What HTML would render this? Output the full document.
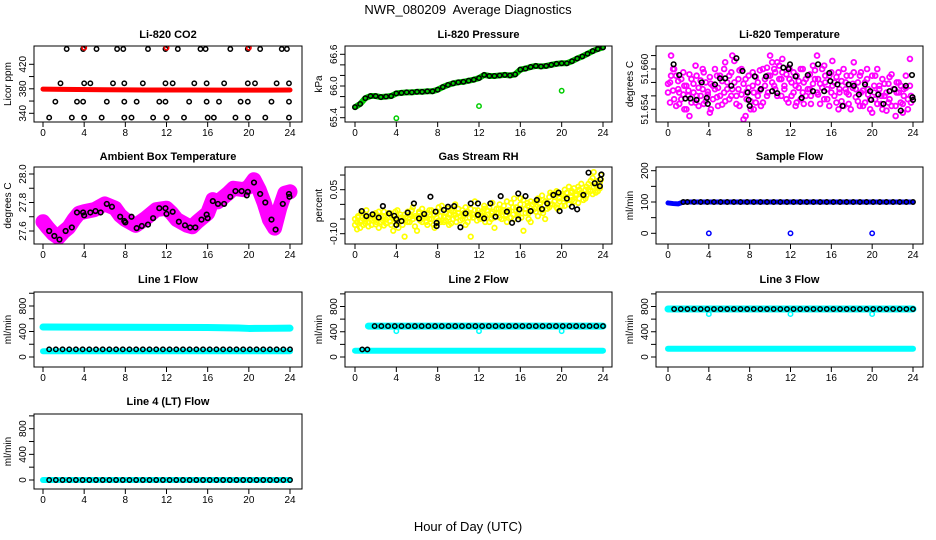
<!DOCTYPE html>
<html><head><meta charset="utf-8"><style>
html,body{margin:0;padding:0;background:#fff;}
svg{display:block;font-family:"Liberation Sans",sans-serif;}
</style></head><body>
<svg id="chart" width="936" height="540" viewBox="0 0 936 540">
<text x="468" y="14" text-anchor="middle" font-size="13">NWR_080209&#160; Average Diagnostics</text>
<text x="468" y="531" text-anchor="middle" font-size="13">Hour of Day (UTC)</text>
</svg>
<script>
// ---------- data ----------
const xTickVals = [0,4,8,12,16,20,24];
const xTickLabels = ["0","4","8","12","16","20","24"];

// CO2
const co2Hours1 = [2.3,3.9,5.2,7.2,7.8,10.2,11.9,13.1,15.3,15.8,18.2,19.9,21.1,23.2,23.7];
const co2Vals1 = [445,445,445,445,445,445,445,445,445,445,445,445,445,445,445];
const co2Hours2 = [1.7,4.0,4.6,6.8,7.9,9.7,11.9,12.6,14.7,15.9,17.6,19.9,20.6,22.7,23.9];
const co2Vals2 = [389,389,389,389,389,389,389,389,389,389,389,389,389,389,389];
const co2Hours3 = [1.2,3.3,3.9,6.2,7.9,9.1,11.3,11.9,14.2,15.9,17.1,19.2,19.9,22.2,23.9];
const co2Vals3 = [359,359,359,359,359,359,359,359,359,359,359,359,359,359,359];
const co2Hours4 = [0.6,2.8,4.0,5.7,7.9,8.6,10.7,12.0,13.7,16.0,16.6,18.7,19.9,21.6,23.9];
const co2Vals4 = [333,333,333,333,333,333,333,333,333,333,333,333,333,333,333];
const co2BandHours = [0,2,6,10,14,18,22,24];
const co2BandVals = [379.5,379,378.5,378,378,377.8,377.8,378];
const co2RedOutHours = [4,12,20];
const co2RedOutVals = [447,447,447];

// Pressure
const pressHours = [0,0.5,1,1.5,2,2.5,3,3.5,4,4.5,5,5.5,6,6.5,7,7.5,8,8.5,9,9.5,10,10.5,11,11.5,12,12.5,13,13.5,14,14.5,15,15.5,16,16.5,17,17.5,18,18.5,19,19.5,20,20.5,21,21.5,22,22.5,23,23.5,24];
const pressVals = [65.6,65.66,65.77,65.81,65.81,65.79,65.8,65.81,65.86,65.87,65.88,65.88,65.89,65.89,65.9,65.9,65.93,65.98,66.02,66.05,66.07,66.08,66.1,66.12,66.15,66.21,66.19,66.19,66.2,66.21,66.2,66.22,66.31,66.33,66.36,66.38,66.37,66.38,66.4,66.42,66.43,66.43,66.47,66.52,66.56,66.61,66.66,66.7,66.73];
const pressOutHours = [4,12,20];
const pressOutVals = [65.39,65.62,65.91];

// Li-820 temperature & gas RH clouds share sample hours
const cloudHours = [0.0,0.2,0.3,0.5,0.6,0.8,1.0,1.1,1.3,1.5,1.6,1.8,2.0,2.1,2.3,2.5,2.7,2.8,3.0,3.2,3.4,3.5,3.7,3.9,4.1,4.2,4.4,4.6,4.8,4.9,5.1,5.3,5.5,5.6,5.8,6.0,6.2,6.3,6.5,6.7,6.9,7.0,7.2,7.4,7.6,7.7,7.9,8.1,8.3,8.4,8.6,8.8,9.0,9.1,9.3,9.5,9.7,9.8,10.0,10.2,10.4,10.5,10.7,10.9,11.1,11.2,11.4,11.6,11.8,11.9,12.1,12.3,12.5,12.6,12.8,13.0,13.2,13.3,13.5,13.7,13.9,14.0,14.2,14.4,14.6,14.7,14.9,15.1,15.3,15.4,15.6,15.8,16.0,16.1,16.3,16.5,16.7,16.8,17.0,17.2,17.4,17.5,17.7,17.9,18.1,18.2,18.4,18.6,18.8,18.9,19.1,19.3,19.5,19.6,19.8,20.0,20.2,20.3,20.5,20.7,20.9,21.0,21.2,21.4,21.6,21.7,21.9,22.1,22.3,22.4,22.6,22.8,23.0,23.1,23.3,23.5,23.7,23.8];
const tempA = [51.6565,51.6580,51.6620,51.6600,51.6555,51.6590,51.6570,51.6548,51.6585,51.6562,
51.6575,51.6540,51.6568,51.6592,51.6550,51.6578,51.6605,51.6560,51.6545,51.6583,
51.6570,51.6595,51.6552,51.6566,51.6588,51.6540,51.6575,51.6600,51.6558,51.6572,
51.6590,51.6547,51.6565,51.6610,51.6580,51.6555,51.6595,51.6570,51.6612,51.6560,
51.6585,51.6545,51.6600,51.6578,51.6530,51.6566,51.6590,51.6552,51.6575,51.6540,
51.6588,51.6560,51.6598,51.6570,51.6550,51.6585,51.6602,51.6565,51.6590,51.6610,
51.6575,51.6595,51.6560,51.6605,51.6585,51.6615,51.6570,51.6592,51.6550,51.6600,
51.6580,51.6565,51.6545,51.6590,51.6572,51.6555,51.6600,51.6580,51.6560,51.6590,
51.6570,51.6548,51.6605,51.6585,51.6620,51.6562,51.6578,51.6600,51.6555,51.6590,
51.6570,51.6545,51.6595,51.6575,51.6560,51.6588,51.6540,51.6570,51.6552,51.6600,
51.6580,51.6565,51.6548,51.6590,51.6572,51.6610,51.6558,51.6580,51.6545,51.6595,
51.6568,51.6550,51.6585,51.6562,51.6540,51.6590,51.6575,51.6555,51.6600,51.6570,
51.6548,51.6585,51.6560,51.6538,51.6578,51.6555,51.6592,51.6570,51.6545,51.6565,
51.6580,51.6550,51.6535,51.6570,51.6590,51.6555,51.6575,51.6560];
const tempB = [51.6578,51.6550,51.6590,51.6568,51.6600,51.6545,51.6582,51.6565,51.6555,51.6595,
51.6540,51.6575,51.6560,51.6530,51.6585,51.6565,51.6550,51.6590,51.6572,51.6560,
51.6600,51.6548,51.6580,51.6562,51.6535,51.6578,51.6555,51.6570,51.6590,51.6545,
51.6560,51.6582,51.6600,51.6552,51.6570,51.6590,51.6560,51.6620,51.6580,51.6548,
51.6570,51.6598,51.6562,51.6525,51.6585,51.6555,51.6572,51.6540,51.6595,51.6565,
51.6550,51.6580,51.6568,51.6545,51.6600,51.6575,51.6560,51.6590,51.6620,51.6580,
51.6600,51.6570,51.6610,51.6585,51.6560,51.6595,51.6575,51.6555,51.6602,51.6585,
51.6560,51.6595,51.6575,51.6550,51.6582,51.6600,51.6565,51.6548,51.6585,51.6570,
51.6592,51.6560,51.6578,51.6598,51.6565,51.6585,51.6548,51.6572,51.6605,51.6580,
51.6555,51.6590,51.6565,51.6612,51.6580,51.6550,51.6595,51.6565,51.6582,51.6545,
51.6570,51.6590,51.6562,51.6540,51.6578,51.6595,51.6570,51.6552,51.6590,51.6565,
51.6545,51.6580,51.6600,51.6570,51.6555,51.6535,51.6565,51.6590,51.6548,51.6575,
51.6560,51.6540,51.6578,51.6565,51.6550,51.6588,51.6545,51.6570,51.6530,51.6580,
51.6565,51.6575,51.6548,51.6560,51.6572,51.6540,51.6615,51.6550];
const tempBlackHours = [0.55,1.1,1.7,2.2,2.8,3.3,3.8,3.9,4.6,5.1,5.6,6.2,6.7,7.3,7.8,7.9,8.0,8.5,9.1,9.6,10.2,10.7,11.3,11.8,11.95,12.5,13.1,13.7,14.2,14.7,15.3,15.8,15.9,16.6,17.1,17.7,18.2,18.7,19.3,19.8,19.9,20.6,21.1,21.7,22.2,22.8,23.3,23.9,23.95,24];
const tempBlackVals = [51.6607,51.6591,51.6556,51.6556,51.6554,51.658,51.6557,51.6548,51.6577,51.6586,51.6586,51.6575,51.6616,51.6597,51.6565,51.6554,51.6545,51.6589,51.657,51.6589,51.6567,51.6564,51.6602,51.66,51.6607,51.6589,51.6557,51.6591,51.6567,51.6607,51.6567,51.6594,51.6582,51.6577,51.6545,51.6577,51.6575,51.6562,51.6577,51.6567,51.6554,51.6562,51.6548,51.6567,51.657,51.6538,51.6575,51.6591,51.6558,51.6554];

// Ambient box temperature
const ambHours = [0,0.5,1,1.5,2,2.5,3,3.5,4,5,6,7,7.5,8,9,10,11,12,12.5,13,14,14.5,15,16,16.5,17,18,18.5,19.5,20,20.5,21,21.5,22,22.5,23,23.5,24];
const ambVals = [27.665,27.62,27.58,27.555,27.595,27.625,27.68,27.725,27.735,27.75,27.79,27.76,27.71,27.68,27.64,27.69,27.75,27.76,27.725,27.68,27.64,27.63,27.665,27.725,27.82,27.805,27.865,27.9,27.89,27.91,27.96,27.89,27.795,27.68,27.62,27.76,27.865,27.875];
const ambBlackHours = [0.6,1.1,1.6,2.2,2.8,3.3,3.9,4.0,4.6,5.1,5.6,6.2,6.7,7.5,7.9,8.0,8.6,9.1,9.6,10.2,10.7,11.3,11.9,12.0,12.6,13.2,13.8,14.3,14.8,15.4,15.9,16.0,16.5,17.0,17.6,18.2,18.7,19.3,19.9,19.8,20.5,21.1,21.6,22.2,22.6,23.3,23.9,23.95];
const ambBlackVals = [27.60,27.565,27.54,27.6,27.625,27.73,27.73,27.71,27.73,27.74,27.73,27.79,27.77,27.70,27.67,27.66,27.70,27.62,27.635,27.645,27.69,27.76,27.76,27.72,27.735,27.665,27.64,27.625,27.625,27.68,27.715,27.69,27.81,27.79,27.79,27.84,27.88,27.88,27.875,27.85,27.94,27.86,27.80,27.68,27.61,27.79,27.86,27.84];

// Gas stream RH
const rhA = [-0.070,-0.060,-0.045,-0.080,-0.055,-0.030,-0.065,-0.050,-0.075,-0.040,
-0.055,-0.035,-0.068,-0.048,-0.025,-0.060,-0.040,-0.072,-0.052,-0.030,
-0.058,-0.038,-0.090,-0.050,-0.020,-0.065,-0.045,-0.070,-0.035,-0.055,
-0.025,-0.060,-0.040,-0.010,-0.075,-0.045,-0.030,-0.055,-0.015,-0.040,
-0.060,-0.030,-0.050,-0.020,-0.070,-0.035,-0.045,-0.010,-0.060,-0.025,
-0.040,-0.055,-0.015,-0.035,-0.065,-0.025,0.000,-0.045,-0.030,-0.055,
-0.020,-0.040,-0.010,-0.060,-0.030,-0.015,-0.045,0.010,-0.035,-0.020,
-0.050,-0.025,-0.005,-0.040,-0.020,-0.060,-0.030,0.005,-0.045,-0.015,
-0.030,0.000,-0.050,-0.020,-0.035,0.010,-0.025,-0.045,-0.010,0.020,
-0.020,-0.040,0.000,-0.015,0.015,-0.030,-0.005,-0.050,0.010,-0.020,
0.005,-0.025,0.020,-0.010,0.030,-0.030,0.010,-0.015,0.025,0.000,
0.035,0.010,-0.010,0.040,0.020,-0.005,0.030,0.050,0.015,0.000,
0.025,0.045,0.010,0.035,0.060,0.020,0.040,0.015,0.050,0.030,
0.070,0.045,0.090,0.060,0.040,0.080,0.055,0.100];
const rhB = [-0.050,-0.085,-0.040,-0.060,-0.030,-0.070,-0.045,-0.020,-0.060,-0.050,
-0.070,-0.045,-0.030,-0.060,-0.080,-0.040,-0.055,-0.025,-0.065,-0.045,
-0.030,-0.070,-0.050,-0.025,-0.060,-0.080,-0.035,-0.055,-0.110,-0.045,
-0.060,-0.035,-0.020,-0.050,-0.040,-0.090,-0.025,-0.045,-0.060,-0.030,
-0.045,-0.070,-0.020,-0.050,-0.035,-0.080,-0.025,-0.055,-0.040,-0.005,
-0.060,-0.030,-0.045,-0.070,-0.020,-0.050,-0.035,-0.060,-0.015,-0.040,
-0.050,-0.030,-0.070,-0.025,-0.045,-0.110,-0.035,-0.020,-0.055,-0.040,
-0.030,-0.045,-0.015,-0.060,-0.035,-0.010,-0.050,-0.025,-0.080,-0.030,
-0.015,-0.045,-0.025,-0.005,-0.040,-0.060,-0.020,0.005,-0.035,-0.050,
-0.010,-0.030,0.020,-0.045,-0.090,-0.015,0.005,-0.030,-0.060,0.000,
-0.015,0.010,-0.040,0.000,-0.020,0.015,-0.050,0.005,-0.010,0.040,
0.000,0.025,0.045,-0.015,0.010,0.035,0.020,-0.005,0.040,0.060,
0.040,0.015,0.055,0.030,0.005,0.050,0.070,0.035,0.020,0.060,
0.050,0.080,0.035,0.110,0.065,0.045,0.075,0.085];
const rhBlackHours = [0.65,1.1,1.7,2.3,2.7,3.3,3.8,4.0,4.0,4.5,5.1,5.7,6.2,6.7,7.3,7.8,7.9,7.9,8.6,9.0,9.6,10.2,10.7,11.2,11.9,11.9,12.5,13.1,13.6,14.1,14.7,15.2,15.8,15.8,15.9,16.5,17.0,17.6,18.1,18.6,19.2,19.7,19.8,20.5,21.0,21.5,22.1,22.6,23.2,23.7,23.75,23.85];
const rhBlackVals = [-0.023,-0.04,-0.034,-0.045,-0.006,-0.031,-0.039,-0.07,-0.05,-0.057,-0.028,0.003,-0.048,-0.033,0.026,-0.025,-0.063,-0.074,-0.019,-0.008,-0.006,-0.078,-0.031,0.003,0.003,-0.036,-0.048,0.003,-0.042,0.028,-0.025,-0.063,-0.051,0.037,-0.017,0.028,-0.023,0.015,-0.016,0.003,0.032,0.04,-0.023,0.02,-0.008,-0.017,0.032,0.108,0.072,0.062,0.085,0.102];

// Flows: black sample hours
const flowHours = [0.6,1.25,1.9,2.55,3.2,3.85,4.5,5.15,5.8,6.45,7.1,7.75,8.4,9.05,9.7,10.35,11.0,11.65,12.3,12.95,13.6,14.25,14.9,15.55,16.2,16.85,17.5,18.15,18.8,19.45,20.1,20.75,21.4,22.05,22.7,23.35,24.0];
const sampleBlackHours = [1.5,1.9,2.55,3.2,3.85,4.5,5.15,5.8,6.45,7.1,7.75,8.4,9.05,9.7,10.35,11.0,11.65,12.3,12.95,13.6,14.25,14.9,15.55,16.2,16.85,17.5,18.15,18.8,19.45,20.1,20.75,21.4,22.05,22.7,23.35,24.0];
const sampleBlackVals = [100,100,100,100,100,100,100,100,100,100,100,100,100,100,100,100,100,100,100,100,100,100,100,100,100,100,100,100,100,100,100,100,100,100,100,100];
const sampleBandHours = [0,0.5,1.0,1.5,24];
const sampleBandVals = [97,95,94,100,100];
const sampleOutHours = [4,12,20];
const sampleOutVals = [0,0,0];

const line1UpperHours = [0,4,8,12,16,19,20,22,24];
const line1UpperVals = [470,468,466,464,462,455,448,450,452];
const line1LowerHours = [0,24];
const line1LowerVals = [90,90];
const line1BlackVals = [120,120,120,120,120,120,120,120,120,120,120,120,120,120,120,120,120,120,120,120,120,120,120,120,120,120,120,120,120,120,120,120,120,120,120,120,120];

const line2UpperHours = [1.3,24];
const line2UpperVals = [490,490];
const line2LowerHours = [0,24];
const line2LowerVals = [100,100];
const line2DipHours = [4,12,20];
const line2DipVals = [410,410,410];
const line2BlackHours = [0.7,1.2,1.9,2.55,3.2,3.85,4.5,5.15,5.8,6.45,7.1,7.75,8.4,9.05,9.7,10.35,11.0,11.65,12.3,12.95,13.6,14.25,14.9,15.55,16.2,16.85,17.5,18.15,18.8,19.45,20.1,20.75,21.4,22.05,22.7,23.35,24.0];
const line2BlackVals = [120,120,490,490,490,490,490,490,490,490,490,490,490,490,490,490,490,490,490,490,490,490,490,490,490,490,490,490,490,490,490,490,490,490,490,490,490];

const line3UpperHours = [0,24];
const line3UpperVals = [760,760];
const line3LowerHours = [0,24];
const line3LowerVals = [130,130];
const line3DipHours = [4,12,20];
const line3DipVals = [680,680,680];
const line3BlackVals = [760,760,760,760,760,760,760,760,760,760,760,760,760,760,760,760,760,760,760,760,760,760,760,760,760,760,760,760,760,760,760,760,760,760,760,760,760];

const line4BandHours = [0,24];
const line4BandVals = [0,0];
const line4BlackVals = [0,0,0,0,0,0,0,0,0,0,0,0,0,0,0,0,0,0,0,0,0,0,0,0,0,0,0,0,0,0,0,0,0,0,0,0,0];

// ---------- drawing ----------
const NS = "http://www.w3.org/2000/svg";
const svg = document.getElementById("chart");
function mk(tag, parent) { const e = document.createElementNS(NS, tag); parent.appendChild(e); return e; }

const cols = [
  {bx0:34, bx1:302, h0:43, h24:290, ylabX:11, tlabX:26},
  {bx0:345, bx1:612, h0:355, h24:603, ylabX:322, tlabX:337},
  {bx0:656, bx1:923, h0:668, h24:913, ylabX:633, tlabX:648}
];
const rows = [
  {by0:46, by1:122, title:38},
  {by0:167, by1:244, title:160},
  {by0:292, by1:367, title:283},
  {by0:414, by1:489, title:405}
];

function panel(name, title, ylab, c, r, yMap, yTicks, yLabels) {
  const g = mk("g", svg);
  
  
  const sx = h => c.h0 + h * (c.h24 - c.h0) / 24;
  const sy = v => yMap[1] + (v - yMap[0]) * (yMap[3] - yMap[1]) / (yMap[2] - yMap[0]);
  const clip = mk("clipPath", g);
  clip.setAttribute("id", name + "-clip");
  const cr = mk("rect", clip);
  cr.setAttribute("x", c.bx0); cr.setAttribute("y", r.by0);
  cr.setAttribute("width", c.bx1 - c.bx0); cr.setAttribute("height", r.by1 - r.by0);
  const plot = mk("g", g);
  plot.setAttribute("clip-path", "url(#" + name + "-clip)");
  
  
  const box = mk("rect", g);
  
  
  box.setAttribute("x", c.bx0); box.setAttribute("y", r.by0);
  box.setAttribute("width", c.bx1 - c.bx0); box.setAttribute("height", r.by1 - r.by0);
  box.setAttribute("fill", "none"); box.setAttribute("stroke", "#000"); box.setAttribute("stroke-width", "1");
  const t = mk("text", g);
  
  
  t.setAttribute("x", (c.bx0 + c.bx1) / 2); t.setAttribute("y", r.title);
  t.setAttribute("text-anchor", "middle"); t.setAttribute("font-size", "11"); t.setAttribute("font-weight", "bold");
  t.textContent = title;
  const yl = mk("text", g);
  
  
  const ymid = (r.by0 + r.by1) / 2;
  yl.setAttribute("transform", "translate(" + c.ylabX + "," + ymid + ") rotate(-90)");
  yl.setAttribute("text-anchor", "middle"); yl.setAttribute("font-size", "10");
  yl.textContent = ylab;
  const xa = mk("g", g);
  
  
  xTickVals.forEach((h, i) => {
    const x = sx(h);
    const tk = mk("line", xa);
    
    
    tk.setAttribute("x1", x); tk.setAttribute("x2", x); tk.setAttribute("y1", r.by1); tk.setAttribute("y2", r.by1 + 5);
    tk.setAttribute("stroke", "#000");
    const lb = mk("text", xa);
    
    
    lb.setAttribute("x", x); lb.setAttribute("y", r.by1 + 14);
    lb.setAttribute("text-anchor", "middle"); lb.setAttribute("font-size", "10");
    lb.textContent = xTickLabels[i];
  });
  const ya = mk("g", g);
  
  
  yTicks.forEach((v, i) => {
    const y = sy(v);
    const tk = mk("line", ya);
    
    
    tk.setAttribute("x1", c.bx0 - 5); tk.setAttribute("x2", c.bx0); tk.setAttribute("y1", y); tk.setAttribute("y2", y);
    tk.setAttribute("stroke", "#000");
    if (yLabels[i]) {
      const lb = mk("text", ya);
      
      
      lb.setAttribute("transform", "translate(" + c.tlabX + "," + y + ") rotate(-90)");
      lb.setAttribute("text-anchor", "middle"); lb.setAttribute("font-size", "10");
      lb.textContent = yLabels[i];
    }
  });
  return {plot, sx, sy};
}

function pts(p, name, hours, vals, color, r, sw) {
  const g = mk("g", p.plot);
  
  
  g.setAttribute("fill", "none"); g.setAttribute("stroke", color); g.setAttribute("stroke-width", sw);
  hours.forEach((h, i) => {
    const ci = mk("circle", g);
    
    
    ci.setAttribute("cx", p.sx(h)); ci.setAttribute("cy", p.sy(vals[i])); ci.setAttribute("r", r);
  });
}
function band(p, name, hours, vals, color, w) {
  const pl = mk("polyline", p.plot);
  
  
  pl.setAttribute("points", hours.map((h, i) => p.sx(h) + "," + p.sy(vals[i])).join(" "));
  pl.setAttribute("fill", "none"); pl.setAttribute("stroke", color); pl.setAttribute("stroke-width", w);
  pl.setAttribute("stroke-linecap", "round"); pl.setAttribute("stroke-linejoin", "round");
}

// Panel 1: CO2
const p1 = panel("co2", "Li-820 CO2", "Licor ppm", cols[0], rows[0], [340,113.3,420,64.3], [340,360,380,400,420], ["340","","380","","420"]);
pts(p1, "co2-black-a", co2Hours1, co2Vals1, "#000", 2.2, 1.5);
pts(p1, "co2-black-b", co2Hours2, co2Vals2, "#000", 2.2, 1.5);
pts(p1, "co2-black-c", co2Hours3, co2Vals3, "#000", 2.2, 1.5);
pts(p1, "co2-black-d", co2Hours4, co2Vals4, "#000", 2.2, 1.5);
band(p1, "co2-red-band", co2BandHours, co2BandVals, "#ff0000", 5);
pts(p1, "co2-red-outliers", co2RedOutHours, co2RedOutVals, "#ff0000", 2.2, 1.6);

// Panel 2: Pressure
const p2 = panel("pressure", "Li-820 Pressure", "kPa", cols[1], rows[0], [65.4,117.7,66.6,54.3], [65.4,65.6,65.8,66.0,66.2,66.4,66.6], ["65.4","","","66.0","","","66.6"]);
band(p2, "pressure-green-band", pressHours, pressVals, "#00cd00", 6);
pts(p2, "pressure-green-outliers", pressOutHours, pressOutVals, "#00cd00", 2.2, 1.5);
pts(p2, "pressure-black", pressHours, pressVals, "#000", 2.2, 1.5);

// Panel 3: Temperature
const p3 = panel("li820-temp", "Li-820 Temperature", "degrees C", cols[2], rows[0], [51.654,109.3,51.660,69], [51.654,51.656,51.658,51.660,51.662], ["51.654","","","51.660",""]);
pts(p3, "temp-magenta-a", cloudHours, tempA, "#ff00ff", 2.4, 1.8);
pts(p3, "temp-magenta-b", cloudHours, tempB, "#ff00ff", 2.4, 1.8);
pts(p3, "temp-black", tempBlackHours, tempBlackVals, "#000", 2.3, 1.6);

// Panel 4: Ambient
const p4 = panel("ambient-temp", "Ambient Box Temperature", "degrees C", cols[0], rows[1], [27.6,231,28.0,174], [27.6,27.7,27.8,27.9,28.0], ["27.6","","27.8","","28.0"]);
band(p4, "ambient-magenta-band", ambHours, ambVals, "#ff00ff", 15);
pts(p4, "ambient-black", ambBlackHours, ambBlackVals, "#000", 2.3, 1.6);

// Panel 5: RH
const p5 = panel("gas-rh", "Gas Stream RH", "percent", cols[1], rows[1], [-0.10,233.7,0.05,189.7], [-0.10,-0.05,0,0.05,0.10], ["-0.10","","","0.05",""]);
pts(p5, "rh-yellow-a", cloudHours, rhA, "#ffff00", 2.3, 1.7);
pts(p5, "rh-yellow-b", cloudHours, rhB, "#ffff00", 2.3, 1.7);
pts(p5, "rh-black", rhBlackHours, rhBlackVals, "#000", 2.3, 1.6);

// Panel 6: Sample flow
const p6 = panel("sample-flow", "Sample Flow", "ml/min", cols[2], rows[1], [0,233.3,200,170.7], [0,50,100,150,200], ["0","","100","","200"]);
band(p6, "sample-blue-band", sampleBandHours, sampleBandVals, "#0000ff", 5);
pts(p6, "sample-blue-outliers", sampleOutHours, sampleOutVals, "#0000ff", 2.2, 1.5);
pts(p6, "sample-black", sampleBlackHours, sampleBlackVals, "#000", 2.2, 1.5);

const flowTicks = [0,200,400,600,800,1000];
const flowLabels = ["0","","400","","800",""];
// Panel 7: Line 1
const p7 = panel("line1-flow", "Line 1 Flow", "ml/min", cols[0], rows[2], [0,357,800,306], flowTicks, flowLabels);
band(p7, "line1-cyan-upper", line1UpperHours, line1UpperVals, "#00ffff", 7);
band(p7, "line1-cyan-lower", line1LowerHours, line1LowerVals, "#00ffff", 6);
pts(p7, "line1-black", flowHours, line1BlackVals, "#000", 2.2, 1.5);

// Panel 8: Line 2
const p8 = panel("line2-flow", "Line 2 Flow", "ml/min", cols[1], rows[2], [0,357,800,306.5], flowTicks, flowLabels);
band(p8, "line2-cyan-upper", line2UpperHours, line2UpperVals, "#00ffff", 7);
band(p8, "line2-cyan-lower", line2LowerHours, line2LowerVals, "#00ffff", 6);
pts(p8, "line2-cyan-dips", line2DipHours, line2DipVals, "#00ffff", 2.2, 1.5);
pts(p8, "line2-black", line2BlackHours, line2BlackVals, "#000", 2.2, 1.5);

// Panel 9: Line 3
const p9 = panel("line3-flow", "Line 3 Flow", "ml/min", cols[2], rows[2], [0,357,800,306.5], flowTicks, flowLabels);
band(p9, "line3-cyan-upper", line3UpperHours, line3UpperVals, "#00ffff", 7);
band(p9, "line3-cyan-lower", line3LowerHours, line3LowerVals, "#00ffff", 6);
pts(p9, "line3-cyan-dips", line3DipHours, line3DipVals, "#00ffff", 2.2, 1.5);
pts(p9, "line3-black", flowHours, line3BlackVals, "#000", 2.2, 1.5);

// Panel 10: Line 4
const p10 = panel("line4-flow", "Line 4 (LT) Flow", "ml/min", cols[0], rows[3], [0,480,800,428.7], flowTicks, flowLabels);
band(p10, "line4-cyan-band", line4BandHours, line4BandVals, "#00ffff", 6);
pts(p10, "line4-black", flowHours, line4BlackVals, "#000", 2.2, 1.5);
</script>
</body></html>
